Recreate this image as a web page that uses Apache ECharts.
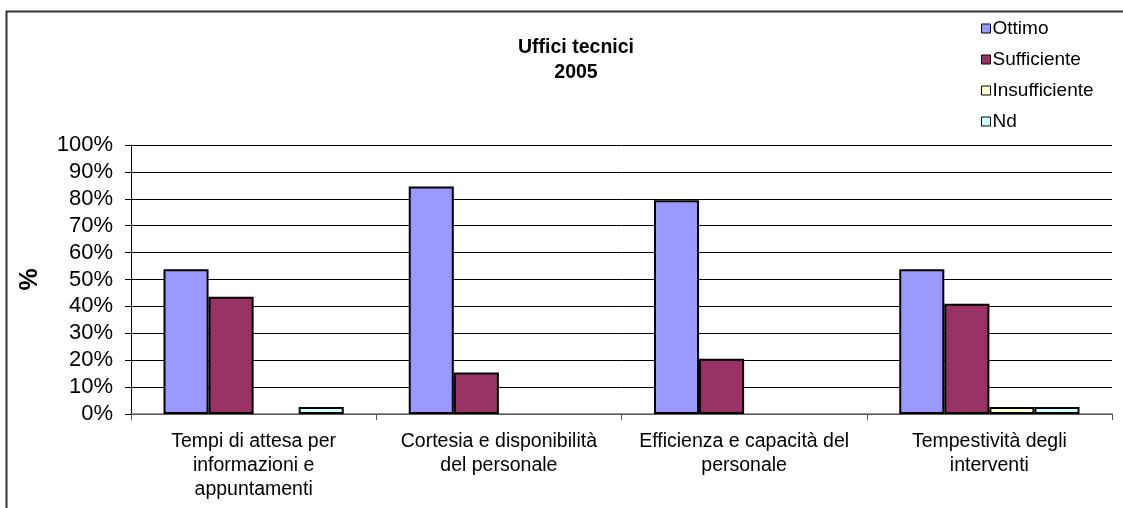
<!DOCTYPE html>
<html>
<head>
<meta charset="utf-8">
<script src="https://cdn.jsdelivr.net/npm/echarts@6/dist/echarts.min.js"></script>
<style>
  html, body { margin: 0; padding: 0; background: #fff; }
  #chart { width: 1123px; height: 508px; }
</style>
</head>
<body>
<div id="chart"></div>
<script>
// Survey results, technical offices 2005 (percent of answers)
const categories = [
  'Tempi di attesa per\ninformazioni e\nappuntamenti',
  'Cortesia e disponibilità\ndel personale',
  'Efficienza e capacità del\npersonale',
  'Tempestività degli\ninterventi'
];
const seriesNames = ['Ottimo', 'Sufficiente', 'Insufficiente', 'Nd'];
const ottimo        = [53.8, 84.6, 79.5, 53.8];
const sufficiente   = [43.6, 15.4, 20.5, 41.0];
const insufficiente = [0, 0, 0, 2.6];
const nd            = [2.6, 0, 0, 2.6];
const seriesColors  = ['#9999FF', '#993366', '#FFFFCC', '#CCFFFF'];
const yTicks = [0, 10, 20, 30, 40, 50, 60, 70, 80, 90, 100];

const FONT = '"Liberation Sans", Arial, sans-serif';
const values = [ottimo, sufficiente, insufficiente, nd];

const chart = echarts.init(document.getElementById('chart'), null, { renderer: 'canvas' });

chart.setOption({
  backgroundColor: '#ffffff',
  animation: false,
  textStyle: { fontFamily: FONT, color: '#000' },
  title: {
    text: 'Uffici tecnici\n2005',
    left: 571,
    top: 30,
    textAlign: 'center',
    textStyle: { fontFamily: FONT, fontSize: 19.5, fontWeight: 'bold', color: '#000', lineHeight: 25 }
  },
  legend: {
    orient: 'vertical',
    left: 976,
    top: 14,
    itemWidth: 9,
    itemHeight: 9,
    itemGap: 12,
    icon: 'rect',
    data: seriesNames,
    itemStyle: { borderColor: '#000', borderWidth: 1 },
    textStyle: { fontFamily: FONT, fontSize: 19, color: '#000', padding: [0, 0, 0, -3], lineHeight: 19 }
  },
  grid: { left: 131, right: 11, top: 145, bottom: 94 },
  xAxis: {
    type: 'category',
    data: categories,
    boundaryGap: true,
    axisLine: { lineStyle: { color: '#777', width: 1.5 } },
    axisTick: { show: true, length: 6, lineStyle: { color: '#555' } },
    axisLabel: { fontFamily: FONT, fontSize: 19.5, color: '#000', lineHeight: 24, margin: 16, interval: 0 }
  },
  yAxis: {
    type: 'value',
    min: yTicks[0],
    max: yTicks[yTicks.length - 1],
    interval: 10,
    name: '%',
    nameLocation: 'middle',
    nameGap: 88,
    nameRotate: 90,
    nameTextStyle: { fontFamily: FONT, fontSize: 25, fontWeight: 'bold', color: '#000' },
    axisLine: { show: true, lineStyle: { color: '#000', width: 1 } },
    axisTick: { show: true, length: 6, lineStyle: { color: '#000' } },
    axisLabel: { fontFamily: FONT, fontSize: 22, color: '#000', margin: 18, formatter: v => v + '%' },
    splitLine: { show: true, lineStyle: { color: '#000', width: 1 } }
  },
  graphic: [{
    type: 'rect',
    shape: { x: 6.5, y: 11.5, width: 1130, height: 520 },
    style: { fill: 'none', stroke: '#333', lineWidth: 2 },
    silent: true
  }],
  series: seriesNames.map((name, i) => ({
    name,
    type: 'bar',
    // empty answers draw no bar at all
    data: values[i].map(v => (v === 0 ? '-' : v)),
    barGap: '0%',
    barCategoryGap: '26.5%',
    itemStyle: { color: seriesColors[i], borderColor: '#000', borderWidth: 2 }
  }))
});
</script>
</body>
</html>
